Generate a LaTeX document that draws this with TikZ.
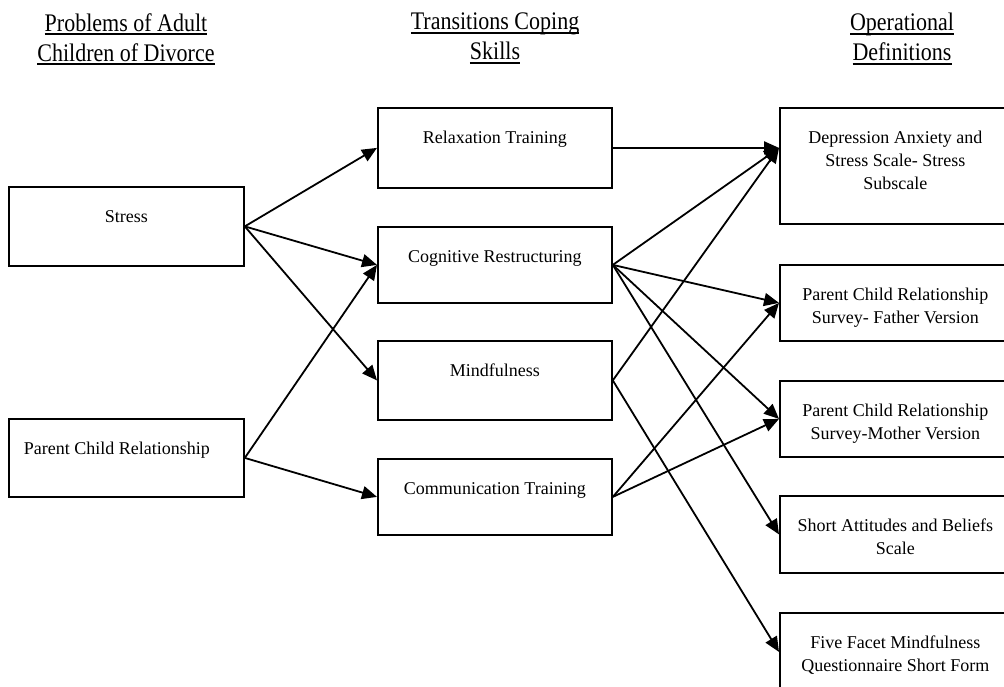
\documentclass[tikz,border=0pt]{standalone}
\usepackage{fontspec}
\setmainfont{Liberation Serif}
\usetikzlibrary{arrows.meta, positioning}

\newsavebox\headbox
\newcommand{\boxtext}[4][\centering]{\parbox[c][#3pt][t]{#2pt}{#1\rule{0pt}{36pt}#4}}
\newcommand{\headline}[1]{\sbox\headbox{\scalebox{1}[1.15]{#1}}\rlap{\rule[-4pt]{\wd\headbox}{1.8pt}}\usebox\headbox}

\begin{document}
\begin{tikzpicture}[
    x=1pt, y=-1pt,
    box/.style={
        draw, line width=1.8pt, anchor=north west, inner sep=0pt,
        font=\fontsize{18}{23}\selectfont
    },
    heading/.style={anchor=north, align=center, inner sep=0pt, font=\fontsize{22}{30}\selectfont},
    arrow/.style={line width=1.8pt, -{Triangle[length=15pt,width=13pt]}}
]
    \clip (0,0) rectangle (1004,686);
    % Headings
    \node (headprob) [heading] at (126,13) {\headline{Problems of Adult}\\ \headline{Children of Divorce}};
    \node (headskill) [heading] at (495,13) {\headline{Transitions Coping}\\ \headline{Skills}};
    \node (headdef) [heading] at (902,13) {\headline{Operational}\\ \headline{Definitions}};
    % Problems
    \node (stress) [box] at (8,186) {\boxtext{235}{79}{Stress}};
    \node (parent) [box] at (8,418) {\boxtext[\raggedright\hspace*{15pt}]{235}{78}{Parent Child Relationship}};
    % Coping skills
    \node (relax) [box] at (377,107) {\boxtext{234}{80}{Relaxation Training}};
    \node (cog) [box] at (377,226) {\boxtext{234}{76}{Cognitive Restructuring}};
    \node (mind) [box] at (377,340) {\boxtext{234}{79}{Mindfulness}};
    \node (comm) [box] at (377,458) {\boxtext{234}{76}{Communication Training}};
    % Definitions
    \node (depr) [box] at (779,107) {\boxtext{231}{116}{Depression Anxiety and\\ Stress Scale- Stress\\ Subscale}};
    \node (father) [box] at (779,264) {\boxtext{231}{76}{Parent Child Relationship\\ Survey- Father Version}};
    \node (mother) [box] at (779,380) {\boxtext{231}{76}{Parent Child Relationship\\ Survey-Mother Version}};
    \node (short) [box] at (779,495) {\boxtext{231}{77}{Short Attitudes and Beliefs\\ Scale}};
    \node (five) [box] at (779,612) {\boxtext{231}{78}{Five Facet Mindfulness\\ Questionnaire Short Form}};
    \coordinate (deprin) at (relax.east -| depr.west);
    % Connections
    \draw [arrow] (stress.east) -- (relax.west);
    \draw [arrow] (stress.east) -- (cog.west);
    \draw [arrow] (stress.east) -- (mind.west);
    \draw [arrow] (parent.east) -- (cog.west);
    \draw [arrow] (parent.east) -- (comm.west);
    \draw [arrow] (relax.east) -- (deprin);
    \draw [arrow] (cog.east) -- (deprin);
    \draw [arrow] (cog.east) -- (father.west);
    \draw [arrow] (cog.east) -- (mother.west);
    \draw [arrow] (cog.east) -- (short.west);
    \draw [arrow] (mind.east) -- (deprin);
    \draw [arrow] (mind.east) -- (five.west);
    \draw [arrow] (comm.east) -- (father.west);
    \draw [arrow] (comm.east) -- (mother.west);
\end{tikzpicture}
\end{document}
